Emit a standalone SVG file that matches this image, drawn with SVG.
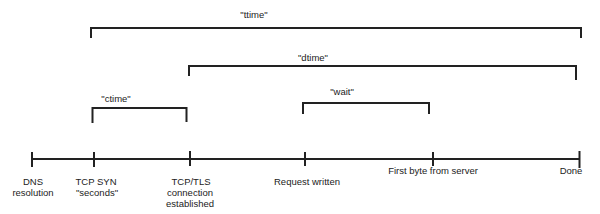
<svg xmlns="http://www.w3.org/2000/svg" width="600" height="214" viewBox="0 0 600 214">
<style>
  .ln { stroke:#222; stroke-width:2; fill:none; }
  .t { font-family:"Liberation Sans", Arial, sans-serif; font-size:9.5px; fill:#222; text-anchor:middle; }
</style>
<rect width="600" height="214" fill="#fff"/>
<g id="connectors">
  <path class="ln" d="M32,159 H580"/>
  <path class="ln" d="M91,38 V28 H581 V38"/>
  <path class="ln" d="M189,76 V66 H576 V80"/>
  <path class="ln" d="M92.5,123 V108 H186.5 V122"/>
  <path class="ln" d="M303,114 V103 H429 V114"/>
</g>
<g id="dns"><path class="ln" d="M32,152 V167"/><text class="t" x="33" y="185">DNS</text><text class="t" x="33" y="196">resolution</text></g>
<g id="tcpsyn"><path class="ln" d="M94,152 V167"/><text class="t" x="96" y="185">TCP SYN</text><text class="t" x="97" y="196">"seconds"</text></g>
<g id="tcptls"><path class="ln" d="M190,151 V166"/><text class="t" x="191" y="185">TCP/TLS</text><text class="t" x="190" y="196">connection</text><text class="t" x="190" y="207">established</text></g>
<g id="request"><path class="ln" d="M305,152 V166"/><text class="t" x="307" y="185">Request written</text></g>
<g id="firstbyte"><path class="ln" d="M433,152 V166"/><text class="t" x="433" y="174">First byte from server</text></g>
<g id="done"><path class="ln" d="M579.5,151 V168"/><text class="t" x="571" y="174">Done</text></g>
<g id="ttime"><text class="t" x="254" y="18">"ttime"</text></g>
<g id="dtime"><text class="t" x="313" y="61">"dtime"</text></g>
<g id="ctime"><text class="t" x="116" y="102">"ctime"</text></g>
<g id="wait"><text class="t" x="342" y="95">"wait"</text></g>
</svg>
